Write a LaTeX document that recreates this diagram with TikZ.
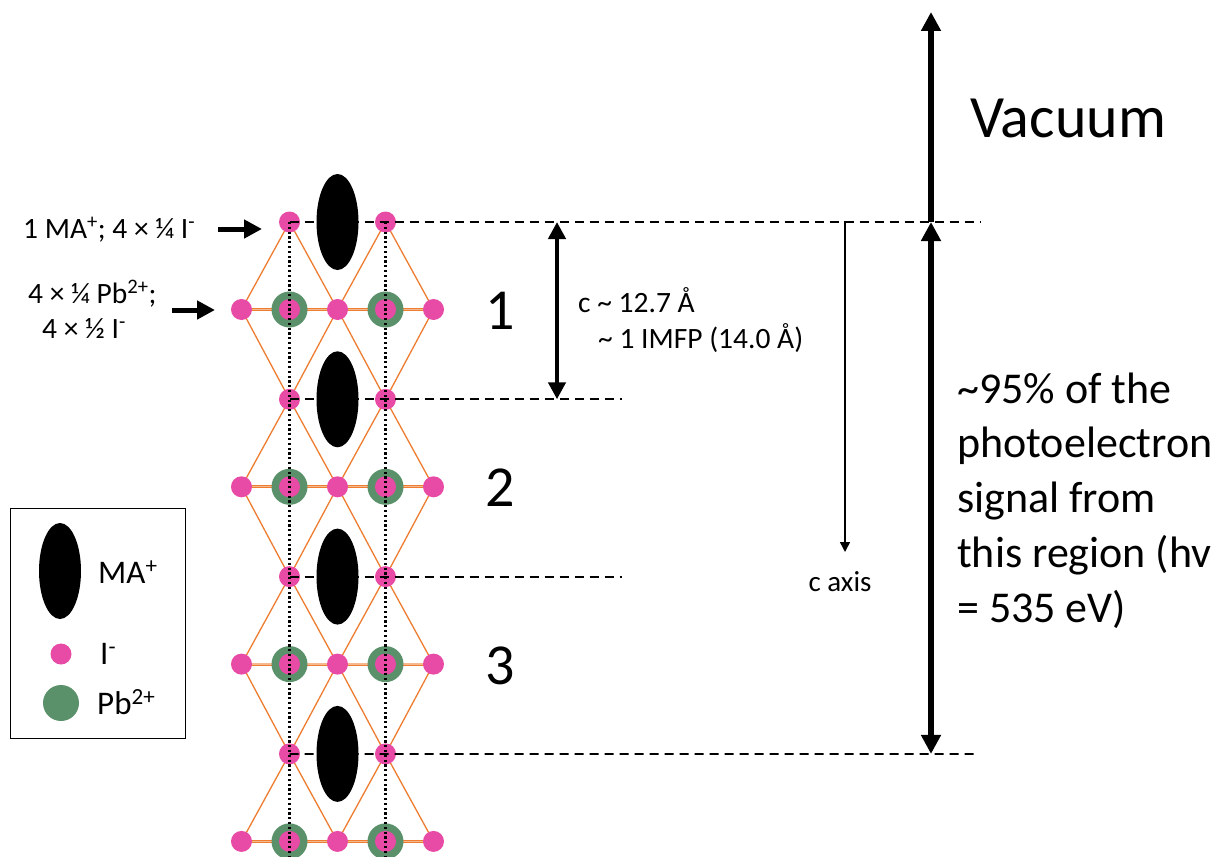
\documentclass[tikz,border=0pt]{standalone}
\usepackage{fontspec}
\setmainfont{Carlito}
\usetikzlibrary{arrows.meta,shapes.geometric,backgrounds}
\definecolor{ipink}{HTML}{E84BA5}
\definecolor{pbgreen}{HTML}{5B916A}
\definecolor{bondorange}{HTML}{ED7D31}
\definecolor{bondlight}{HTML}{F6B88E}
\begin{document}
\begin{tikzpicture}[x=1pt,y=-1pt,
  iatom/.style={circle, fill=ipink, minimum size=21pt, inner sep=0pt},
  pbatom/.style={circle, fill=pbgreen, minimum size=36pt, inner sep=0pt},
  maion/.style={ellipse, fill=black, minimum width=42pt, minimum height=96pt, inner sep=0pt},
  bond/.style={draw=bondorange, line width=1.3pt},
  hbond/.style={draw=bondorange, line width=0.9pt, double=bondlight, double distance=1.3pt},
  cellline/.style={draw=black, line width=2.2pt, dash pattern=on 2.2pt off 2.6pt},
  levelline/.style={draw=black, line width=1.8pt, dash pattern=on 9pt off 6pt},
  bigarrow/.style={line width=5.5pt, -{Triangle[length=19pt,width=19pt]}},
  bigboth/.style={line width=5.5pt, {Triangle[length=19pt,width=19pt]}-{Triangle[length=19pt,width=19pt]}},
  carrow/.style={line width=4.5pt, {Triangle[length=17pt,width=17pt]}-{Triangle[length=17pt,width=17pt]}},
  ptrarrow/.style={line width=5pt, -{Triangle[length=18pt,width=18pt]}},
  axisarrow/.style={line width=1.5pt, -{Triangle[length=10pt,width=10pt]}},
  lbl/.style={font=\fontsize{29.5}{34}\selectfont, inner sep=0pt},
  leglbl/.style={font=\fontsize{33}{38}\selectfont, inner sep=0pt},
  bignum/.style={font=\fontsize{58}{64}\selectfont, inner sep=0pt},
  rtxt/.style={font=\fontsize{44}{52}\selectfont, inner sep=0pt, anchor=base west},
]
\useasboundingbox (0,0) rectangle (1217,856);

% ---------- atoms ----------
\foreach \r in {0,...,3} {
  \pgfmathsetmacro\yP{309.5+177.3*\r}
  \node[pbatom] (pb-\r-2) at (289.5,\yP) {};
  \node[pbatom] (pb-\r-4) at (385.5,\yP) {};
}
\foreach \r in {0,...,3} {
  \pgfmathsetmacro\yP{309.5+177.3*\r}
  \pgfmathsetmacro\yI{222+177.3*\r}
  \node[iatom] (p-\r-1) at (241.5,\yP) {};
  \node[iatom] (p-\r-2) at (289.5,\yP) {};
  \node[iatom] (p-\r-3) at (337.5,\yP) {};
  \node[iatom] (p-\r-4) at (385.5,\yP) {};
  \node[iatom] (p-\r-5) at (433.5,\yP) {};
  \node[iatom] (i-\r-1) at (289.5,\yI) {};
  \node[iatom] (i-\r-2) at (385.5,\yI) {};
}

% ---------- bonds (behind) ----------
\begin{scope}[on background layer]
\foreach \r in {0,...,3} {
  \draw[hbond] (p-\r-1.center) -- (p-\r-5.center);
  \draw[bond] (i-\r-1.center) -- (p-\r-1.center)
              (i-\r-1.center) -- (p-\r-3.center)
              (i-\r-2.center) -- (p-\r-3.center)
              (i-\r-2.center) -- (p-\r-5.center);
}
\foreach \r in {1,2,3} {
  \pgfmathtruncatemacro\q{\r-1}
  \draw[bond] (i-\r-1.center) -- (p-\q-1.center)
              (i-\r-1.center) -- (p-\q-3.center)
              (i-\r-2.center) -- (p-\q-3.center)
              (i-\r-2.center) -- (p-\q-5.center);
}
\end{scope}

% ---------- unit-cell dotted lines ----------
\coordinate (bot1) at (289.5,856);
\coordinate (bot2) at (385.5,856);
\draw[cellline] (i-0-1.center) -- (bot1);
\draw[cellline] (i-0-2.center) -- (bot2);

% ---------- dashed level lines ----------
\coordinate (lv0) at (980,222);
\coordinate (lv1) at (622,399.3);
\coordinate (lv2) at (622,576.6);
\coordinate (lv3) at (976,753.9);
\draw[levelline] (i-0-1.center) -- (lv0);
\draw[levelline] (i-1-1.center) -- (lv1);
\draw[levelline] (i-2-1.center) -- (lv2);
\draw[levelline] (i-3-1.center) -- (lv3);

% ---------- MA ions ----------
\foreach \r in {0,...,3} {
  \pgfmathsetmacro\yI{222+177.3*\r}
  \node[maion] (ma-\r) at (337.5,\yI) {};
}

% ---------- left labels ----------
\node[lbl, anchor=base west] (lab1) at (23,238) {1 MA\textsuperscript{+}; 4 × ¼ I\textsuperscript{-}};
\node[lbl, anchor=base west] (lab2a) at (28,303) {4 × ¼ Pb\textsuperscript{2+};};
\node[lbl, anchor=base west] (lab2b) at (42,338) {4 × ½ I\textsuperscript{-}};
\coordinate (a1s) at (218,229);
\coordinate (a1e) at (262,229);
\coordinate (a2s) at (172,310);
\coordinate (a2e) at (215,310);
\draw[ptrarrow] (a1s) -- (a1e);
\draw[ptrarrow] (a2s) -- (a2e);

% ---------- layer numbers ----------
\node[bignum] (n1) at (500,311) {1};
\node[bignum] (n2) at (500,488) {2};
\node[bignum] (n3) at (500,666) {3};

% ---------- c parameter ----------
\coordinate (ct) at (557,222);
\coordinate (cb) at (557,399.3);
\draw[carrow] (ct) -- (cb);
\node[lbl, anchor=base west] (clab1) at (578,312) {c \textasciitilde{} 12.7 Å};
\node[lbl, anchor=base west] (clab2) at (598,348) {\textasciitilde{} 1 IMFP (14.0 Å)};

% ---------- c axis ----------
\coordinate (cx0) at (853,222);
\coordinate (cx1) at (845,222);
\coordinate (cx2) at (845,552);
\draw[axisarrow] (cx0) -- (cx1) -- (cx2);
\node[font=\fontsize{29}{34}\selectfont, inner sep=0pt] (caxis) at (840,582) {c axis};

% ---------- vacuum & region arrows ----------
\coordinate (vb) at (931,222);
\coordinate (vt) at (931,12);
\coordinate (rb) at (931,753.9);
\draw[bigarrow] (vb) -- (vt);
\draw[bigboth] (vb) -- (rb);
\node[font=\fontsize{60}{66}\selectfont, inner sep=0pt, anchor=base west] (vac) at (970,138) {Vacuum};
\node[rtxt] (r1) at (957,403) {\textasciitilde 95\% of the};
\node[rtxt] (r2) at (957,457.75) {photoelectron};
\node[rtxt] (r3) at (957,512.5) {signal from};
\node[rtxt] (r4) at (957,567.25) {this region (hv};
\node[rtxt] (r5) at (957,622) {= 535 eV)};

% ---------- legend ----------
\node[draw=black, line width=1.2pt, minimum width=175pt, minimum height=230pt, inner sep=0pt, anchor=north west] (legend) at (10,508) {};
\node[maion] (lgma) at (60,571) {};
\node[iatom] (lgi) at (61,654) {};
\node[pbatom] (lgpb) at (61,703) {};
\node[leglbl, anchor=base west] (lgmat) at (98,583) {MA\textsuperscript{+}};
\node[leglbl, anchor=base west] (lgit) at (100,664) {I\textsuperscript{-}};
\node[leglbl, anchor=base west] (lgpbt) at (97,714) {Pb\textsuperscript{2+}};
\end{tikzpicture}
\end{document}
